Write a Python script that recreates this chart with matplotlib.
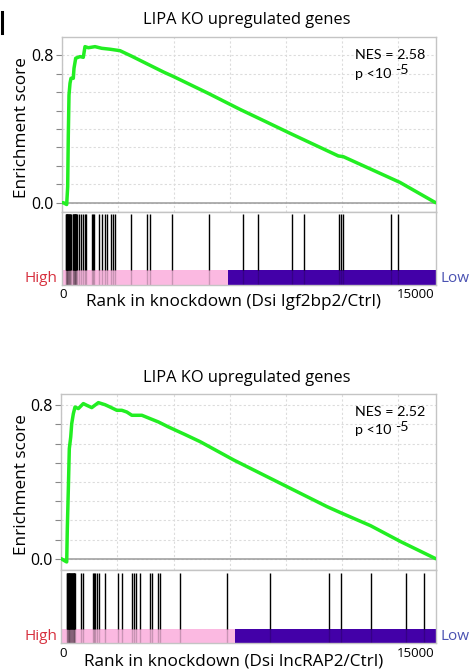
import numpy as np
import matplotlib
matplotlib.use("Agg")
import matplotlib.pyplot as plt
from matplotlib.lines import Line2D

plt.rcParams['font.family'] = ['Open Sans', 'DejaVu Sans']

# ---------------- data ----------------
title = "LIPA KO upregulated genes"
n_genes = 16680
grid_step = 2500
ytick_vals = [0.0, 0.1, 0.2, 0.3, 0.4, 0.5, 0.6, 0.7, 0.8]
ytick_labels = ["0.0", "", "", "", "", "", "", "", "0.8"]
xtick_labels = ["0", "15000"]

# panel 1 : Dsi Igf2bp2/Ctrl
es1_rank = [0, 45, 196, 240, 268, 299, 344, 388, 491, 522, 598, 790, 937, 1013,
            1161, 1460, 1759, 2129, 2352, 2576, 3098, 3692, 4138, 4553, 4955,
            6518, 7932, 9123, 10165, 12321, 12544, 15075, 16660]
es1_score = [0.0, 0.0, -0.01, 0.087, 0.368, 0.585, 0.649, 0.676, 0.676, 0.73,
             0.785, 0.794, 0.79, 0.848, 0.842, 0.848, 0.839, 0.834, 0.83, 0.826,
             0.796, 0.76, 0.733, 0.708, 0.686, 0.594, 0.507, 0.438, 0.377,
             0.254, 0.25, 0.11, 0.0]
hits1 = [150, 170, 190, 210, 230, 250, 270, 290, 310, 330, 350, 370,
         465, 485, 505, 525, 545, 565, 585, 605, 625, 645,
         745, 821, 940, 1000, 1058, 1312, 1370, 1429, 1652, 1786, 1906, 1982,
         2174, 2250, 2352, 3066, 3768, 3915, 4910, 6549, 8053, 8750, 10241,
         10790, 12352, 12441, 12544, 14660, 15000]
split1 = 7410
nes1 = "NES = 2.58"
xlabel1 = "Rank in knockdown (Dsi Igf2bp2/Ctrl)"

# panel 2 : Dsi lncRAP2/Ctrl
es2_rank = [0, 134, 241, 268, 312, 357, 420, 464, 536, 611, 759, 982, 1134,
            1357, 1652, 1951, 2174, 2473, 2696, 2919, 3143, 3589, 3884, 4330,
            4777, 5522, 6192, 7678, 9316, 11847, 12441, 13780, 15120, 16680]
es2_score = [0.0, -0.01, -0.017, 0.157, 0.357, 0.574, 0.635, 0.704, 0.756,
             0.791, 0.783, 0.809, 0.80, 0.788, 0.814, 0.803, 0.791, 0.774,
             0.774, 0.765, 0.748, 0.748, 0.734, 0.713, 0.687, 0.647, 0.61,
             0.515, 0.419, 0.271, 0.24, 0.172, 0.089, 0.0]
hits2 = [245, 265, 285, 305, 325, 345, 365, 385, 405, 425, 445, 465, 485,
         505, 525, 545, 565, 585, 605,
         866, 982, 1390, 1450, 1520, 1600, 1696, 1951, 2518, 2696, 3170, 3259,
         3321, 3513, 3960, 4035, 4303, 4406, 5299, 7383, 9316, 11919, 12441,
         13780, 15343, 16160]
split2 = 7723
nes2 = "NES = 2.52"
xlabel2 = "Rank in knockdown (Dsi lncRAP2/Ctrl)"

# ---------------- drawing ----------------
W, H = 476, 671
fig = plt.figure(figsize=(W / 100, H / 100), dpi=100)

GREEN = "#22EE22"
PINK = "#FBB9E1"
PURPLE = "#4300A8"
SPINE = "#c4c4c4"
GRID = "#dcdcdc"


def fx(px):
    return px / W


def fy(py):
    return 1 - py / H


def panel(left, right, top, sep, bottom, ylim, ranks, scores, hits, split,
          nes, xlabel, title_y, xlabel_y, nes_y):
    # ES axes
    ax = fig.add_axes([fx(left), fy(sep), fx(right - left), (sep - top) / H])
    ax.plot(ranks, scores, color=GREEN, lw=2.5, solid_joinstyle="round",
            solid_capstyle="round", zorder=3)
    ax.set_xlim(0, n_genes)
    ax.set_ylim(*ylim)
    ax.set_yticks(ytick_vals)
    ax.set_yticklabels(ytick_labels, fontsize=11.5)
    ax.set_xticks(np.arange(0, n_genes, grid_step))
    ax.set_xticklabels([])
    ax.tick_params(axis="x", length=0)
    ax.tick_params(axis="y", length=4, color="#888888", pad=2)
    ax.grid(True, ls=(0, (2, 2)), color=GRID, lw=0.8)
    ax.axhline(0, color="#9a9a9a", lw=1.1, zorder=2)
    for s in ax.spines.values():
        s.set_color(SPINE)
        s.set_linewidth(1.0)
    nes_font = dict(fontsize=10.3, family=["Lato", "DejaVu Sans"],
                    va="center", ha="left", transform=fig.transFigure)
    ax.text(fx(355), fy(nes_y), nes, **nes_font)
    ax.text(fx(355), fy(nes_y + 18.5), "p <10", **nes_font)
    ax.text(fx(395), fy(nes_y + 15), "-5", **nes_font)

    # barcode axes
    bx = fig.add_axes([fx(left), fy(bottom), fx(right - left), (bottom - sep) / H])
    bx.set_xlim(0, n_genes)
    bx.set_ylim(0, 1)
    bx.axvspan(0, split, ymin=0, ymax=0.2, color=PINK, lw=0)
    bx.axvspan(split, n_genes, ymin=0, ymax=0.2, color=PURPLE, lw=0)
    bx.vlines(hits, 0.2, 0.965, color="black", lw=1.0)
    bx.vlines(hits, 0.0, 0.2, color="black", lw=1.0, alpha=0.2)
    bx.set_xticks([])
    bx.set_yticks([])
    for s in bx.spines.values():
        s.set_color(SPINE)
        s.set_linewidth(1.0)

    # labels
    fig.text(fx(246.5), fy(title_y), title, fontsize=11.8, ha="center", va="center")
    fig.text(fx(22), fy((top + sep) / 2 + 3), "Enrichment score", fontsize=12.3,
             rotation=90, ha="center", va="center")
    fig.text(fx(57), fy(bottom - 7), "High", color="#D7303E", fontsize=11,
             ha="right", va="center")
    fig.text(fx(441), fy(bottom - 7), "Low", color="#4A52B2", fontsize=11,
             ha="left", va="center")
    tick_pos = [63, 416]
    for lab, p in zip(xtick_labels, tick_pos):
        fig.text(fx(p), fy(bottom + 10), lab, fontsize=9.5, ha="center", va="center")
    fig.text(fx(234), fy(xlabel_y), xlabel, fontsize=12.3, ha="center", va="center")


panel(62.3, 436, 36.7, 211.7, 285, (-0.049, 0.902), es1_rank, es1_score, hits1,
      split1, nes1, xlabel1, title_y=20.5, xlabel_y=302.5, nes_y=55)
panel(61.3, 435.7, 394, 570, 643.3, (-0.059, 0.859), es2_rank, es2_score, hits2,
      split2, nes2, xlabel2, title_y=378.5, xlabel_y=661.5, nes_y=411.7)

# cropped panel mark at top-left
fig.add_artist(Line2D([fx(1.5), fx(1.5)], [fy(12), fy(33)], color="black",
                      lw=2.2, transform=fig.transFigure))

fig.savefig("out.png", dpi=100)
